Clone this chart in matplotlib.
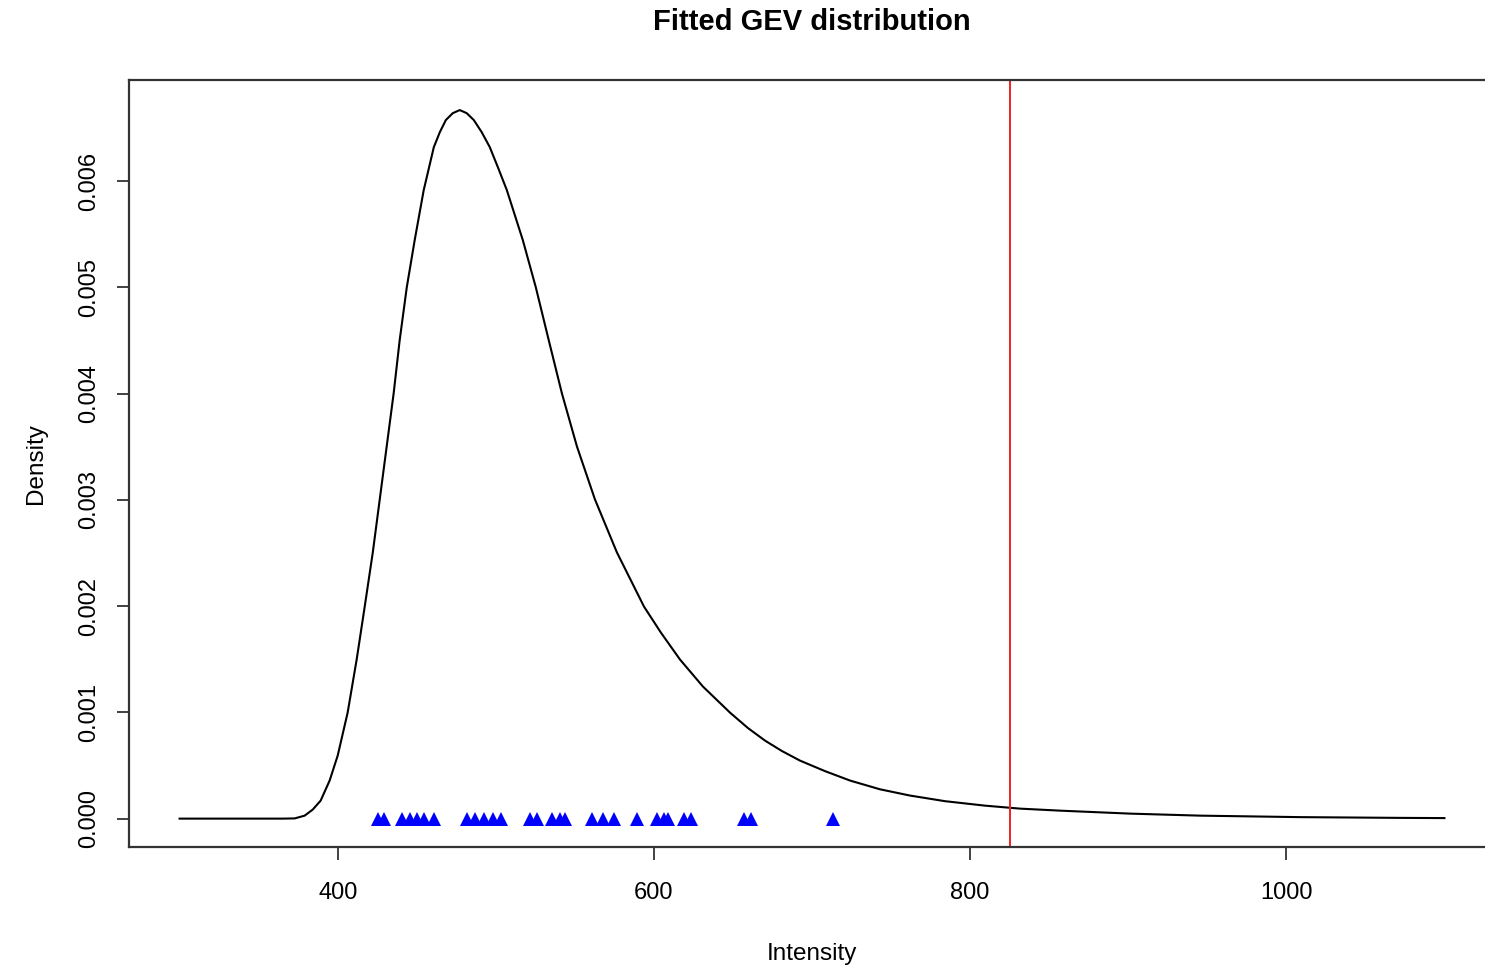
import numpy as np
import matplotlib.pyplot as plt

plt.rcParams['font.family'] = ['Liberation Sans', 'DejaVu Sans']

# fitted density curve, sampled along the intensity axis
intensity = [300.0, 365.2, 372.8, 379.1, 384.2, 389.2, 394.9, 400.0, 406.3,
             412.0, 417.1, 422.2, 426.6, 431.0, 435.4, 439.2, 443.7, 448.7,
             454.4, 460.8, 464.6, 468.4, 472.8, 477.2, 481.6, 486.1, 491.1,
             496.2, 501.3, 507.0, 517.1, 525.3, 533.5, 541.8, 551.3, 562.7,
             576.6, 593.7, 604.4, 616.5, 631.0, 648.1, 659.5, 670.3, 681.0,
             692.4, 708.2, 724.1, 743.0, 762.0, 784.2, 809.5, 831.6, 857.0,
             901.3, 945.6, 1008.9, 1072.2, 1100.0]
density = [0.0, 0.0, 0.000002, 0.000028, 0.000085, 0.000169, 0.000358,
           0.000593, 0.000998, 0.001497, 0.001996, 0.002505, 0.003004,
           0.003503, 0.004002, 0.004501, 0.005000, 0.005443, 0.005913,
           0.006318, 0.006459, 0.006573, 0.006638, 0.006667, 0.006638,
           0.006573, 0.006459, 0.006318, 0.006130, 0.005913, 0.005443,
           0.005000, 0.004501, 0.004002, 0.003503, 0.003004, 0.002505,
           0.001996, 0.001751, 0.001497, 0.001243, 0.000998, 0.000852,
           0.000734, 0.000636, 0.000546, 0.000447, 0.000358, 0.000276,
           0.000217, 0.000164, 0.000122, 0.000094, 0.000075, 0.000047,
           0.000028, 0.000014, 0.000007, 0.000005]

# observed maxima
observed = [425.3, 429.1, 440.5, 445.6, 450.0, 454.4, 460.8, 481.6, 486.7,
            492.4, 498.1, 503.2, 521.5, 526.0, 535.4, 540.5, 543.7, 560.8,
            567.7, 574.7, 589.2, 601.9, 606.3, 608.9, 619.0, 623.4, 657.0,
            661.4, 713.3]

threshold = 825.3

xticks = [400, 600, 800, 1000]
yticks = [0.000, 0.001, 0.002, 0.003, 0.004, 0.005, 0.006]

fig = plt.figure(figsize=(14.85, 9.66), dpi=100)
ax = fig.add_axes([129 / 1485, 1 - 847 / 966, 1366 / 1485, 767 / 966])

ax.plot(intensity, density, color='black', lw=1.5, solid_joinstyle='round')
ax.plot(observed, np.zeros(len(observed)), linestyle='none', marker='^',
        markersize=9.5, color='#0000ff', markeredgewidth=0)
ax.axvline(threshold, color='#ee2222', lw=1.4)

ax.set_xlim(268, 1132)
ax.set_ylim(-0.000267, 0.00695)

ax.set_xticks(xticks)
ax.set_xticklabels([str(v) for v in xticks])
ax.set_yticks(yticks)
ax.set_yticklabels([f"{v:.3f}" for v in yticks], rotation=90, va='center')
ax.tick_params(axis='both', direction='out', length=9, width=1.3,
               color='#333333', labelsize=17)
ax.tick_params(axis='x', pad=16)
ax.tick_params(axis='y', pad=12)

for s in ax.spines.values():
    s.set_color('#333333')
    s.set_linewidth(1.6)

ax.set_xlabel("Intensity", fontsize=17.5, labelpad=28)
ax.set_ylabel("Density", fontsize=17.5, labelpad=22)
fig.text(812 / 1485, 1 - 22 / 966, "Fitted GEV distribution",
         fontsize=21, fontweight='bold', ha='center', va='center')

fig.savefig("out.png", dpi=100)
